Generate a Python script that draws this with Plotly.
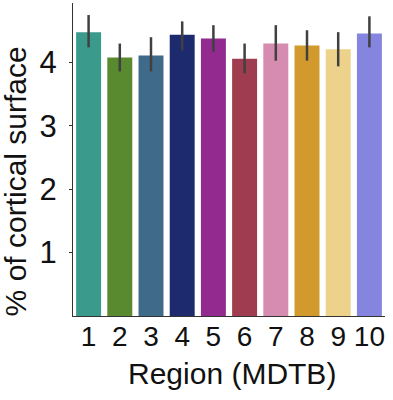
import plotly.graph_objects as go

regions = ["1", "2", "3", "4", "5", "6", "7", "8", "9", "10"]
values = [4.48, 4.08, 4.11, 4.44, 4.38, 4.06, 4.30, 4.27, 4.21, 4.46]
err_hi = [4.75, 4.30, 4.40, 4.65, 4.59, 4.30, 4.59, 4.51, 4.48, 4.73]
err_lo = [4.24, 3.86, 3.86, 4.19, 4.17, 3.83, 4.03, 4.03, 3.94, 4.24]
colors = ["#3a9a8c", "#5a8a30", "#3f6a8a", "#1e2a6e", "#922a90",
          "#a03c50", "#d68cb0", "#d29a2c", "#ecd28a", "#8585e0"]
y_ticks = [1, 2, 3, 4]
x_title = "Region (MDTB)"
y_title = "% of cortical surface"

fig = go.Figure()
fig.add_trace(go.Bar(
    x=regions, y=values, width=0.8,
    marker=dict(color=colors, line=dict(width=0)),
    error_y=dict(type="data", symmetric=False,
                 array=[h - v for h, v in zip(err_hi, values)],
                 arrayminus=[v - l for v, l in zip(values, err_lo)],
                 color="#404040", thickness=2.5, width=0),
))

font = "Liberation Sans, Arial, sans-serif"
fig.update_layout(
    width=393, height=400,
    margin=dict(l=73, r=8, t=3, b=84, autoexpand=False),
    plot_bgcolor="white", paper_bgcolor="white",
    showlegend=False,
    font=dict(family=font, color="#111111"),
    annotations=[
        dict(text=x_title, xref="paper", yref="paper", x=0.51, y=-0.185,
             xanchor="center", yanchor="middle", showarrow=False,
             font=dict(size=30, color="#111111")),
        dict(text=y_title, xref="paper", yref="paper", x=-0.186, y=0.43,
             xanchor="center", yanchor="middle", showarrow=False, textangle=-90,
             font=dict(size=30, color="#111111")),
    ],
)
fig.update_xaxes(
    type="category", range=[-0.5, 9.5], automargin=False,
    tickmode="array", tickvals=regions, ticktext=regions,
    showline=True, linecolor="#333333", linewidth=1,
    ticks="", showgrid=False, ticklabelstandoff=-5,
    tickfont=dict(size=28, color="#111111"),
)
fig.update_yaxes(
    range=[0, 4.94], automargin=False,
    showline=True, linecolor="#333333", linewidth=1,
    ticks="outside", ticklen=3, tickcolor="#333333",
    tickvals=y_ticks, showgrid=False, zeroline=False,
    ticklabelstandoff=6,
    tickfont=dict(size=31, color="#111111"),
)

fig.write_html("out.html", config={"displayModeBar": False},
               post_script="document.body.style.margin='0';")
